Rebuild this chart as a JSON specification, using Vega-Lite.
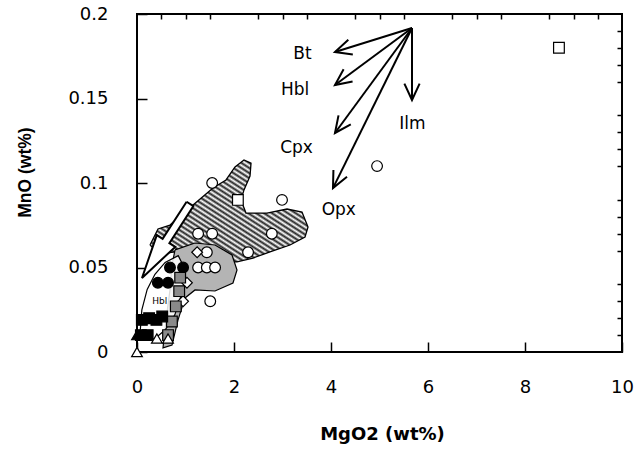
{
  "$schema": "https://vega.github.io/schema/vega-lite/v6.json",
  "width": 485,
  "height": 338,
  "autosize": {"type": "none"},
  "padding": {"left": 137, "top": 14, "right": 14, "bottom": 100},
  "background": "white",
  "config": {
    "view": {"stroke": "black", "strokeWidth": 2},
    "font": "DejaVu Sans",
    "axis": {"domain": false, "grid": false, "labelOverlap": false, "labelFlush": false, "zindex": 1}
  },
  "resolve": {"axis": {"x": "independent", "y": "independent"}},
  "datasets": {
    "poly": [
      {"p": "hatch", "i": 0, "x": 0.268, "y": 0.0633},
      {"p": "hatch", "i": 1, "x": 0.433, "y": 0.0728},
      {"p": "hatch", "i": 2, "x": 0.68, "y": 0.0751},
      {"p": "hatch", "i": 3, "x": 1.155, "y": 0.087},
      {"p": "hatch", "i": 4, "x": 1.567, "y": 0.097},
      {"p": "hatch", "i": 5, "x": 1.835, "y": 0.1018},
      {"p": "hatch", "i": 6, "x": 2.021, "y": 0.1095},
      {"p": "hatch", "i": 7, "x": 2.206, "y": 0.1136},
      {"p": "hatch", "i": 8, "x": 2.351, "y": 0.1118},
      {"p": "hatch", "i": 9, "x": 2.33, "y": 0.1041},
      {"p": "hatch", "i": 10, "x": 2.206, "y": 0.0959},
      {"p": "hatch", "i": 11, "x": 2.144, "y": 0.0899},
      {"p": "hatch", "i": 12, "x": 2.247, "y": 0.0822},
      {"p": "hatch", "i": 13, "x": 2.68, "y": 0.0822},
      {"p": "hatch", "i": 14, "x": 3.093, "y": 0.0846},
      {"p": "hatch", "i": 15, "x": 3.402, "y": 0.0828},
      {"p": "hatch", "i": 16, "x": 3.526, "y": 0.074},
      {"p": "hatch", "i": 17, "x": 3.464, "y": 0.068},
      {"p": "hatch", "i": 18, "x": 3.155, "y": 0.0633},
      {"p": "hatch", "i": 19, "x": 2.742, "y": 0.0592},
      {"p": "hatch", "i": 20, "x": 2.392, "y": 0.0556},
      {"p": "hatch", "i": 21, "x": 2.062, "y": 0.0533},
      {"p": "hatch", "i": 22, "x": 1.608, "y": 0.0533},
      {"p": "hatch", "i": 23, "x": 1.196, "y": 0.0568},
      {"p": "hatch", "i": 24, "x": 0.784, "y": 0.0592},
      {"p": "hatch", "i": 25, "x": 0.474, "y": 0.058},
      {"p": "hatch", "i": 26, "x": 0.268, "y": 0.0633},
      {"p": "stip", "i": 0, "x": 0.784, "y": 0.0604},
      {"p": "stip", "i": 1, "x": 1.196, "y": 0.0645},
      {"p": "stip", "i": 2, "x": 1.608, "y": 0.0633},
      {"p": "stip", "i": 3, "x": 1.959, "y": 0.0574},
      {"p": "stip", "i": 4, "x": 2.062, "y": 0.0485},
      {"p": "stip", "i": 5, "x": 1.979, "y": 0.0408},
      {"p": "stip", "i": 6, "x": 1.608, "y": 0.0361},
      {"p": "stip", "i": 7, "x": 1.196, "y": 0.0367},
      {"p": "stip", "i": 8, "x": 0.99, "y": 0.032},
      {"p": "stip", "i": 9, "x": 0.845, "y": 0.0189},
      {"p": "stip", "i": 10, "x": 0.722, "y": 0.0041},
      {"p": "stip", "i": 11, "x": 0.536, "y": 0.0024},
      {"p": "stip", "i": 12, "x": 0.598, "y": 0.0189},
      {"p": "stip", "i": 13, "x": 0.68, "y": 0.0367},
      {"p": "stip", "i": 14, "x": 0.722, "y": 0.0515},
      {"p": "stip", "i": 15, "x": 0.784, "y": 0.0604},
      {"p": "white", "i": 0, "x": 0.06, "y": 0.01},
      {"p": "white", "i": 1, "x": 0.1, "y": 0.025},
      {"p": "white", "i": 2, "x": 0.21, "y": 0.037},
      {"p": "white", "i": 3, "x": 0.37, "y": 0.046},
      {"p": "white", "i": 4, "x": 0.58, "y": 0.053},
      {"p": "white", "i": 5, "x": 0.85, "y": 0.057},
      {"p": "white", "i": 6, "x": 0.99, "y": 0.049},
      {"p": "white", "i": 7, "x": 0.95, "y": 0.037},
      {"p": "white", "i": 8, "x": 0.78, "y": 0.022},
      {"p": "white", "i": 9, "x": 0.58, "y": 0.013},
      {"p": "white", "i": 10, "x": 0.37, "y": 0.008},
      {"p": "white", "i": 11, "x": 0.16, "y": 0.007},
      {"p": "white", "i": 12, "x": 0.06, "y": 0.01},
      {"p": "arrow", "i": 0, "x": 1.023, "y": 0.0889},
      {"p": "arrow", "i": 1, "x": 1.163, "y": 0.0863},
      {"p": "arrow", "i": 2, "x": 0.668, "y": 0.0644},
      {"p": "arrow", "i": 3, "x": 0.788, "y": 0.0622},
      {"p": "arrow", "i": 4, "x": 0.103, "y": 0.0438},
      {"p": "arrow", "i": 5, "x": 0.408, "y": 0.0692},
      {"p": "arrow", "i": 6, "x": 0.528, "y": 0.067},
      {"p": "arrow", "i": 7, "x": 1.023, "y": 0.0889}
    ],
    "pts": [
      {"x": 8.7, "y": 0.18, "s": "osq"},
      {"x": 2.08, "y": 0.09, "s": "osq"},
      {"x": 4.95, "y": 0.11, "s": "oc"},
      {"x": 2.99, "y": 0.09, "s": "oc"},
      {"x": 1.55, "y": 0.1, "s": "oc"},
      {"x": 1.26, "y": 0.07, "s": "oc"},
      {"x": 1.55, "y": 0.07, "s": "oc"},
      {"x": 2.78, "y": 0.07, "s": "oc"},
      {"x": 2.29, "y": 0.059, "s": "oc"},
      {"x": 1.44, "y": 0.059, "s": "oc"},
      {"x": 1.26, "y": 0.05, "s": "oc"},
      {"x": 1.44, "y": 0.05, "s": "oc"},
      {"x": 1.61, "y": 0.05, "s": "oc"},
      {"x": 1.51, "y": 0.03, "s": "oc"},
      {"x": 1.24, "y": 0.059, "s": "od"},
      {"x": 1.03, "y": 0.041, "s": "od"},
      {"x": 0.95, "y": 0.03, "s": "od"},
      {"x": 0.68, "y": 0.05, "s": "fc"},
      {"x": 0.95, "y": 0.05, "s": "fc"},
      {"x": 0.43, "y": 0.041, "s": "fc"},
      {"x": 0.64, "y": 0.041, "s": "fc"},
      {"x": 0.89, "y": 0.044, "s": "xsq"},
      {"x": 0.87, "y": 0.036, "s": "xsq"},
      {"x": 0.8, "y": 0.027, "s": "xsq"},
      {"x": 0.72, "y": 0.018, "s": "xsq"},
      {"x": 0.64, "y": 0.01, "s": "xsq"},
      {"x": 0.1, "y": 0.019, "s": "fsq"},
      {"x": 0.25, "y": 0.02, "s": "fsq"},
      {"x": 0.4, "y": 0.019, "s": "fsq"},
      {"x": 0.52, "y": 0.021, "s": "fsq"},
      {"x": 0.08, "y": 0.01, "s": "fsq"},
      {"x": 0.22, "y": 0.01, "s": "fsq"},
      {"x": 0.0, "y": 0.01, "s": "ft"},
      {"x": 0.41, "y": 0.008, "s": "ot"},
      {"x": 0.64, "y": 0.008, "s": "ot"},
      {"x": 0.0, "y": 0.0, "s": "ot"}
    ],
    "vec": [
      {"m": "Bt", "x": 5.67, "y": 0.1917, "x2": 4.082, "y2": 0.1775},
      {"m": "Hbl", "x": 5.67, "y": 0.1917, "x2": 4.082, "y2": 0.158},
      {"m": "Cpx", "x": 5.67, "y": 0.1917, "x2": 4.082, "y2": 0.1296},
      {"m": "Opx", "x": 5.67, "y": 0.1917, "x2": 4.041, "y2": 0.097},
      {"m": "Ilm", "x": 5.67, "y": 0.1917, "x2": 5.67, "y2": 0.1491}
    ],
    "heads": [
      {"m": "Bt", "i": 0, "x": 4.45, "y": 0.1761},
      {"m": "Bt", "i": 1, "x": 4.082, "y": 0.1775},
      {"m": "Bt", "i": 2, "x": 4.357, "y": 0.1847},
      {"m": "Hbl", "i": 0, "x": 4.445, "y": 0.1601},
      {"m": "Hbl", "i": 1, "x": 4.082, "y": 0.158},
      {"m": "Hbl", "i": 2, "x": 4.26, "y": 0.1673},
      {"m": "Cpx", "i": 0, "x": 4.408, "y": 0.1347},
      {"m": "Cpx", "i": 1, "x": 4.082, "y": 0.1296},
      {"m": "Cpx", "i": 2, "x": 4.155, "y": 0.14},
      {"m": "Opx", "i": 0, "x": 4.33, "y": 0.1037},
      {"m": "Opx", "i": 1, "x": 4.041, "y": 0.097},
      {"m": "Opx", "i": 2, "x": 4.05, "y": 0.1077},
      {"m": "Ilm", "i": 0, "x": 5.827, "y": 0.1588},
      {"m": "Ilm", "i": 1, "x": 5.67, "y": 0.1491},
      {"m": "Ilm", "i": 2, "x": 5.513, "y": 0.1588}
    ],
    "labels": [
      {"t": "Bt", "x": 3.41, "y": 0.1763, "k": "big"},
      {"t": "Hbl", "x": 3.26, "y": 0.155, "k": "big"},
      {"t": "Cpx", "x": 3.29, "y": 0.121, "k": "big"},
      {"t": "Ilm", "x": 5.68, "y": 0.135, "k": "big"},
      {"t": "Opx", "x": 4.16, "y": 0.084, "k": "big"},
      {"t": "Hbl", "x": 0.47, "y": 0.03, "k": "small"}
    ]
  },
  "layer": [
    {
      "data": {"name": "poly"},
      "transform": [{"filter": "datum.p == 'hatch'"}],
      "mark": {
        "type": "line",
        "stroke": "black",
        "strokeWidth": 1.3,
        "fill": {
          "gradient": "linear", "x1": 0, "y1": 1, "x2": 1, "y2": 0,
          "stops": [
            {"offset": 0, "color": "#222"}, {"offset": 0.0125, "color": "#fff"},
            {"offset": 0.025, "color": "#222"}, {"offset": 0.0375, "color": "#fff"},
            {"offset": 0.05, "color": "#222"}, {"offset": 0.0625, "color": "#fff"},
            {"offset": 0.075, "color": "#222"}, {"offset": 0.0875, "color": "#fff"},
            {"offset": 0.1, "color": "#222"}, {"offset": 0.1125, "color": "#fff"},
            {"offset": 0.125, "color": "#222"}, {"offset": 0.1375, "color": "#fff"},
            {"offset": 0.15, "color": "#222"}, {"offset": 0.1625, "color": "#fff"},
            {"offset": 0.175, "color": "#222"}, {"offset": 0.1875, "color": "#fff"},
            {"offset": 0.2, "color": "#222"}, {"offset": 0.2125, "color": "#fff"},
            {"offset": 0.225, "color": "#222"}, {"offset": 0.2375, "color": "#fff"},
            {"offset": 0.25, "color": "#222"}, {"offset": 0.2625, "color": "#fff"},
            {"offset": 0.275, "color": "#222"}, {"offset": 0.2875, "color": "#fff"},
            {"offset": 0.3, "color": "#222"}, {"offset": 0.3125, "color": "#fff"},
            {"offset": 0.325, "color": "#222"}, {"offset": 0.3375, "color": "#fff"},
            {"offset": 0.35, "color": "#222"}, {"offset": 0.3625, "color": "#fff"},
            {"offset": 0.375, "color": "#222"}, {"offset": 0.3875, "color": "#fff"},
            {"offset": 0.4, "color": "#222"}, {"offset": 0.4125, "color": "#fff"},
            {"offset": 0.425, "color": "#222"}, {"offset": 0.4375, "color": "#fff"},
            {"offset": 0.45, "color": "#222"}, {"offset": 0.4625, "color": "#fff"},
            {"offset": 0.475, "color": "#222"}, {"offset": 0.4875, "color": "#fff"},
            {"offset": 0.5, "color": "#222"}, {"offset": 0.5125, "color": "#fff"},
            {"offset": 0.525, "color": "#222"}, {"offset": 0.5375, "color": "#fff"},
            {"offset": 0.55, "color": "#222"}, {"offset": 0.5625, "color": "#fff"},
            {"offset": 0.575, "color": "#222"}, {"offset": 0.5875, "color": "#fff"},
            {"offset": 0.6, "color": "#222"}, {"offset": 0.6125, "color": "#fff"},
            {"offset": 0.625, "color": "#222"}, {"offset": 0.6375, "color": "#fff"},
            {"offset": 0.65, "color": "#222"}, {"offset": 0.6625, "color": "#fff"},
            {"offset": 0.675, "color": "#222"}, {"offset": 0.6875, "color": "#fff"},
            {"offset": 0.7, "color": "#222"}, {"offset": 0.7125, "color": "#fff"},
            {"offset": 0.725, "color": "#222"}, {"offset": 0.7375, "color": "#fff"},
            {"offset": 0.75, "color": "#222"}, {"offset": 0.7625, "color": "#fff"},
            {"offset": 0.775, "color": "#222"}, {"offset": 0.7875, "color": "#fff"},
            {"offset": 0.8, "color": "#222"}, {"offset": 0.8125, "color": "#fff"},
            {"offset": 0.825, "color": "#222"}, {"offset": 0.8375, "color": "#fff"},
            {"offset": 0.85, "color": "#222"}, {"offset": 0.8625, "color": "#fff"},
            {"offset": 0.875, "color": "#222"}, {"offset": 0.8875, "color": "#fff"},
            {"offset": 0.9, "color": "#222"}, {"offset": 0.9125, "color": "#fff"},
            {"offset": 0.925, "color": "#222"}, {"offset": 0.9375, "color": "#fff"},
            {"offset": 0.95, "color": "#222"}, {"offset": 0.9625, "color": "#fff"},
            {"offset": 0.975, "color": "#222"}, {"offset": 0.9875, "color": "#fff"},
            {"offset": 1, "color": "#222"}
          ]
        }
      },
      "encoding": {
        "x": {
          "field": "x", "type": "quantitative",
          "scale": {"domain": [0, 10], "nice": false, "zero": false},
          "axis": {
            "title": "MgO2 (wt%)",
            "values": [0, 2, 4, 6, 8, 10],
            "format": "d",
            "ticks": true,
            "tickColor": "#000000",
            "tickOpacity": 1,
            "tickWidth": 1.5,
            "offset": -10,
            "tickSize": 10,
            "labelPadding": 26,
            "labelFont": "DejaVu Sans",
            "labelFontSize": 18,
            "labelColor": "black",
            "titleFont": "DejaVu Sans",
            "titleFontSize": 18,
            "titleFontWeight": "bold",
            "titleColor": "black",
            "titleX": 245,
            "titleY": 83,
            "titleAlign": "center",
            "titleBaseline": "top"
          }
        },
        "y": {
          "field": "y", "type": "quantitative",
          "scale": {"domain": [0, 0.2], "nice": false, "zero": false},
          "axis": {
            "title": "MnO (wt%)",
            "values": [0, 0.05, 0.1, 0.15, 0.2],
            "format": ".2~f",
            "ticks": true,
            "tickColor": "#000000",
            "tickOpacity": 1,
            "tickWidth": 1.5,
            "offset": -10,
            "tickSize": 10,
            "labelPadding": 29,
            "labelFont": "DejaVu Sans",
            "labelFontSize": 18,
            "labelColor": "black",
            "titleFont": "Liberation Sans",
            "titleFontSize": 17.5,
            "titleFontWeight": "bold",
            "titleColor": "black",
            "titleAngle": -90,
            "titleX": -122,
            "titleY": 158,
            "titleAlign": "center",
            "titleBaseline": "middle"
          }
        },
        "order": {"field": "i", "type": "quantitative"}
      }
    },
    {
      "data": {"name": "poly"},
      "transform": [{"filter": "datum.p == 'stip'"}],
      "mark": {"type": "line", "stroke": "black", "strokeWidth": 1.2, "fill": "#b4b4b4"},
      "encoding": {
        "x": {
          "field": "x", "type": "quantitative",
          "scale": {"domain": [0, 10], "nice": false, "zero": false},
          "axis": {"title": null, "labels": false, "ticks": true, "tickColor": "#000000", "tickOpacity": 1, "tickWidth": 1.5, "offset": -5, "tickSize": 5, "values": [0.5, 1, 1.5, 2.5, 3, 3.5, 4.5, 5, 5.5, 6.5, 7, 7.5, 8.5, 9, 9.5]}
        },
        "y": {
          "field": "y", "type": "quantitative",
          "scale": {"domain": [0, 0.2], "nice": false, "zero": false},
          "axis": {"title": null, "labels": false, "ticks": true, "tickColor": "#000000", "tickOpacity": 1, "tickWidth": 1.5, "offset": -5, "tickSize": 5, "values": [0.01, 0.02, 0.03, 0.04, 0.06, 0.07, 0.08, 0.09, 0.11, 0.12, 0.13, 0.14, 0.16, 0.17, 0.18, 0.19]}
        },
        "order": {"field": "i", "type": "quantitative"}
      }
    },
    {
      "data": {"name": "poly"},
      "transform": [{"filter": "datum.p == 'white'"}],
      "mark": {"type": "line", "stroke": "black", "strokeWidth": 1.2, "fill": "white", "fillOpacity": 0.85},
      "encoding": {
        "x": {"field": "x", "type": "quantitative", "axis": null},
        "y": {"field": "y", "type": "quantitative", "axis": null},
        "order": {"field": "i", "type": "quantitative"}
      }
    },
    {
      "data": {"name": "poly"},
      "transform": [{"filter": "datum.p == 'arrow'"}],
      "mark": {"type": "line", "stroke": "black", "strokeWidth": 2, "fill": "white", "strokeJoin": "miter"},
      "encoding": {
        "x": {"field": "x", "type": "quantitative", "axis": null},
        "y": {"field": "y", "type": "quantitative", "axis": null},
        "order": {"field": "i", "type": "quantitative"}
      }
    },
    {
      "data": {"name": "pts"},
      "mark": {"type": "point", "filled": false, "stroke": "black", "strokeWidth": 1.2, "opacity": 1},
      "encoding": {
        "x": {"field": "x", "type": "quantitative", "axis": null},
        "y": {"field": "y", "type": "quantitative", "axis": null},
        "shape": {
          "field": "s", "type": "nominal", "legend": null,
          "scale": {
            "domain": ["oc", "fc", "osq", "od", "ot", "ft", "xsq", "fsq"],
            "range": ["circle", "circle", "square", "diamond", "triangle-up", "triangle-up", "square", "square"]
          }
        },
        "fill": {
          "field": "s", "type": "nominal", "legend": null,
          "scale": {
            "domain": ["oc", "fc", "osq", "od", "ot", "ft", "xsq", "fsq"],
            "range": ["white", "black", "white", "white", "white", "black", "#8a8a8a", "black"]
          }
        },
        "size": {
          "field": "s", "type": "nominal", "legend": null,
          "scale": {
            "domain": ["oc", "fc", "osq", "od", "ot", "ft", "xsq", "fsq"],
            "range": [115, 115, 130, 110, 90, 90, 70, 50]
          }
        }
      }
    },
    {
      "data": {"name": "vec"},
      "mark": {"type": "rule", "stroke": "black", "strokeWidth": 2},
      "encoding": {
        "x": {"field": "x", "type": "quantitative", "axis": null},
        "y": {"field": "y", "type": "quantitative", "axis": null},
        "x2": {"field": "x2"},
        "y2": {"field": "y2"}
      }
    },
    {
      "data": {"name": "heads"},
      "mark": {"type": "line", "stroke": "black", "strokeWidth": 2, "strokeJoin": "miter"},
      "encoding": {
        "x": {"field": "x", "type": "quantitative", "axis": null},
        "y": {"field": "y", "type": "quantitative", "axis": null},
        "detail": {"field": "m", "type": "nominal"},
        "order": {"field": "i", "type": "quantitative"}
      }
    },
    {
      "data": {"name": "labels"},
      "transform": [{"filter": "datum.k == 'big'"}],
      "mark": {"type": "text", "font": "DejaVu Sans", "fontSize": 17, "fill": "black", "align": "center", "baseline": "middle"},
      "encoding": {
        "x": {"field": "x", "type": "quantitative", "axis": null},
        "y": {"field": "y", "type": "quantitative", "axis": null},
        "text": {"field": "t"}
      }
    },
    {
      "data": {"name": "labels"},
      "transform": [{"filter": "datum.k == 'small'"}],
      "mark": {"type": "text", "font": "DejaVu Sans", "fontSize": 9, "fill": "black", "align": "center", "baseline": "middle"},
      "encoding": {
        "x": {"field": "x", "type": "quantitative", "axis": null},
        "y": {"field": "y", "type": "quantitative", "axis": null},
        "text": {"field": "t"}
      }
    }
  ]
}
